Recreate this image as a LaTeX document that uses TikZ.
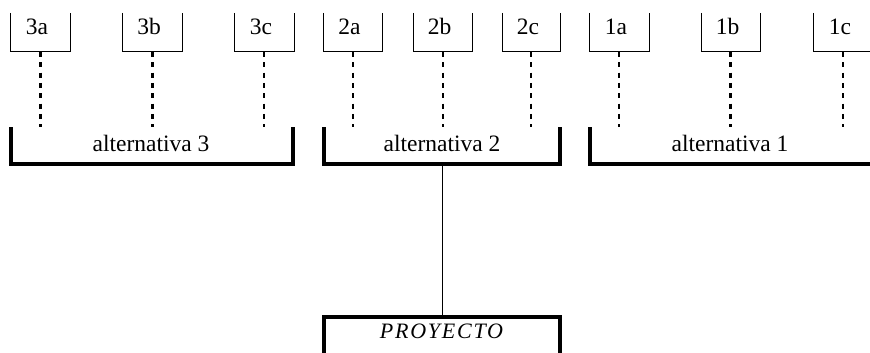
\documentclass[tikz,border=0pt]{standalone}
\usepackage{fontspec}
\setmainfont{Liberation Serif}
\begin{document}
\begin{tikzpicture}[x=1pt,y=-1pt,
  box/.style={minimum width=60pt,minimum height=39pt,inner sep=0pt,outer sep=0pt},
  boxline/.style={line width=1pt},
  lbl/.style={anchor=base,inner sep=0pt,font=\fontsize{23.5}{27}\selectfont},
  dline/.style={line width=2pt,dash pattern=on 5pt off 5.3pt},
  dthick/.style={line width=3pt,dash pattern=on 5pt off 5.3pt},
  brk/.style={inner sep=0pt,outer sep=0pt,minimum height=37pt},
  brkline/.style={line width=4pt},
  conn/.style={line width=1pt}]
\useasboundingbox (0,0) rectangle (870,353);
\clip (0,0) rectangle (870,353);
% boxes
\foreach \n/\x/\w in {3a/40/60,3b/152/60,3c/264/60,2a/352.5/59,2b/442.5/59,2c/531/58,1a/619/60,1b/730.5/59,1c/843/60}{
  \node[box,minimum width=\w pt] (b\n) at (\x,32.5) {};
}
% 1c extends past the right edge
\node[box,minimum width=70pt] (b1cext) at (848,32.5) {};
\foreach \n in {3a,3b,3c,2a,2b,2c,1a,1b}{
  \draw[boxline] (b\n.north west) |- (b\n.south east) -- (b\n.north east);
  \node[lbl] at ([xshift=-3pt,yshift=-2pt]b\n.center) {\n};
}
\draw[boxline] (b1c.north west) |- (b1cext.south east);
\node[lbl] at ([xshift=-3pt,yshift=-2pt]b1c.center) {1c};
% brackets
\node[brk,minimum width=282pt] (alt3) at (152,145.5) {};
\node[brk,minimum width=236pt] (alt2) at (442,145.5) {};
\node[brk,minimum width=300pt] (alt1) at (740,145.5) {};
\draw[brkline] (alt3.north west) |- (alt3.south east) -- (alt3.north east);
\draw[brkline] (alt2.north west) |- (alt2.south east) -- (alt2.north east);
\draw[brkline] (alt1.north west) |- (alt1.south east);
\node[lbl] at (151,151) {alternativa 3};
\node[lbl] at (442,151) {alternativa 2};
\node[lbl] at (730,151) {alternativa 1};
% dashed links
\foreach \n/\g in {3c/alt3,2a/alt2,2b/alt2,2c/alt2,1a/alt1,1c/alt1}{
  \draw[dline] (b\n.south) -- (b\n.south |- \g.north);
}
\foreach \n/\g in {3a/alt3,3b/alt3,1b/alt1}{
  \draw[dthick] (b\n.south) -- (b\n.south |- \g.north);
}
% project
\node[inner sep=0pt,outer sep=0pt,minimum width=236pt,minimum height=40pt] (proj) at (442,337) {};
\draw[brkline] (proj.south west) |- (proj.north east) -- (proj.south east);
\node[lbl] at (441.5,338) {\addfontfeatures{LetterSpace=8}\fontsize{22}{26}\selectfont\itshape PROYECTO};
\draw[conn] (alt2.south) -- (proj.north);
\end{tikzpicture}
\end{document}
